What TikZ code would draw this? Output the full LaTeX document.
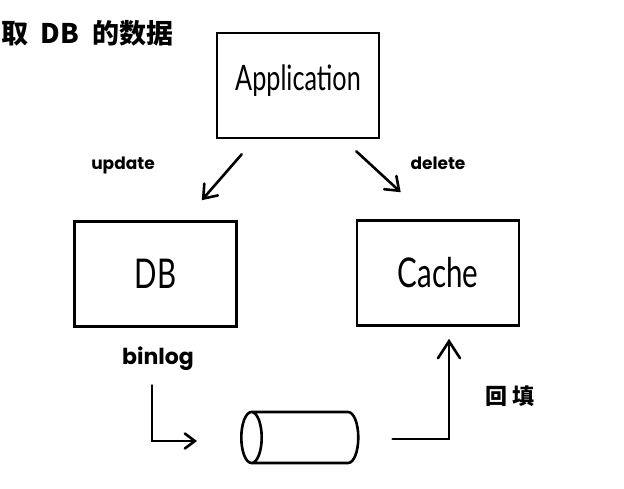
\documentclass[tikz,border=0pt]{standalone}
\usepackage{fontspec}
\setmainfont{Poppins}
\newfontfamily\boxfont[FakeStretch=0.72]{Lato}
\newfontfamily\cjk{Noto Sans CJK SC}
\usetikzlibrary{shapes.geometric, arrows.meta, positioning}

\tikzset{
  box/.style={draw, line width=2.6pt, minimum width=162pt, minimum height=105pt,
    font=\boxfont\fontsize{35}{40}\selectfont},
  tag/.style={font=\bfseries\fontsize{17}{20}\selectfont},
  hanzi/.style={font=\cjk\bfseries\fontsize{22}{26}\selectfont},
  flow/.style={line width=2.6pt, line cap=round,
    -{Straight Barb[length=12pt,width=18pt,line cap=round]}},
}

\begin{document}
\begin{tikzpicture}[x=1pt,y=-1pt]
\useasboundingbox (0,0) rectangle (624,488);

\node[hanzi, font=\cjk\bfseries\fontsize{27}{30}\selectfont, anchor=west] (title) at (-2,33)
  {取\hspace{12pt}DB\hspace{14pt}的数据};

\node[box] (app) at (298,85.5) {\raisebox{16pt}{Application}};
\node[box, font=\boxfont\fontsize{41}{46}\selectfont] (db) at (155.5,274) {DB};
\node[box, font=\boxfont\fontsize{41}{46}\selectfont] (cache) at (438,273) {Cache};
\node[cylinder, draw, line width=2.6pt, shape border rotate=180, shape aspect=0.4,
  inner xsep=0pt, inner ysep=25.5pt, minimum height=117pt, anchor=west]
  (queue) at (240,437.5) {};

\node[tag] (update) at (123,165) {update};
\node[tag] (delete) at (438,163) {delete};
\node[tag, font=\bfseries\fontsize{22}{26}\selectfont] (binlog) at (158,359) {binlog};
\node[hanzi] (refill) at (510,396) {回 填};

\draw[flow] ([shift={(26,15)}]app.south west) -- ([shift={(-36,-20)}]db.north east);
\draw[flow] ([shift={(-24,12)}]app.south east) -- ([shift={(45,-27)}]cache.north west);
\draw[flow, -{Straight Barb[length=10pt,width=15pt,line cap=round]}]
  ([shift={(-6,11)}]binlog.south) |- ([shift={(-43,3.5)}]queue.west);
\draw[flow, -{Straight Barb[length=17pt,width=22pt,line cap=round]}]
  ([shift={(33,1.5)}]queue.east) -| ([shift={(11,12)}]cache.south);
\end{tikzpicture}
\end{document}
